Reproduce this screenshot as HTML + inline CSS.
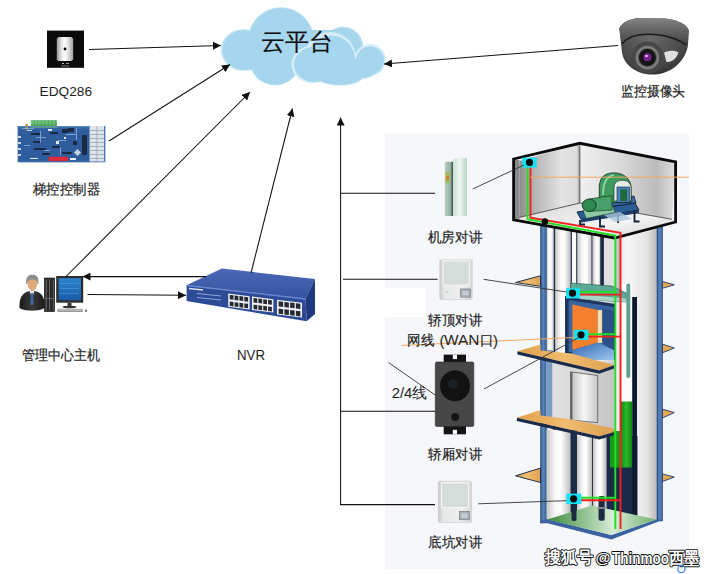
<!DOCTYPE html>
<html><head><meta charset="utf-8">
<style>
html,body{margin:0;padding:0;background:#fff;width:715px;height:574px;overflow:hidden}
svg{display:block}
text.wmk{font-weight:bold;fill:#fff;stroke:#0a0a0a;stroke-width:1.8px;paint-order:stroke;stroke-linejoin:round}
text{font-family:"Liberation Sans",sans-serif;fill:#1e1e1e;stroke:#1e1e1e;stroke-width:0.2px}
</style></head><body>
<svg width="715" height="574" viewBox="0 0 715 574">
<defs>
<marker id="ah" viewBox="0 0 10 10" refX="10" refY="5" markerWidth="8" markerHeight="8" markerUnits="userSpaceOnUse" orient="auto">
<path d="M0,0 L10,5 L0,10 z" fill="#111"/></marker>
</defs>
<!-- panel -->
<rect x="385" y="133.5" width="304" height="435.5" fill="#f5f7fa"/>
<rect x="385" y="288" width="41" height="29" fill="#fff"/>

<!-- cloud -->
<g fill="#cde8f5">
<ellipse cx="243" cy="50" rx="22.5" ry="21"/>
<circle cx="281" cy="40" r="33"/>
<circle cx="275" cy="60" r="25.5"/>
<circle cx="343" cy="47" r="20.5"/>
</g>
<g fill="#a6d6ed">
<ellipse cx="244" cy="50" rx="21.5" ry="20"/>
<circle cx="281" cy="40.5" r="32.5"/>
<circle cx="275" cy="60" r="25"/>
<circle cx="343" cy="47" r="19.5"/>
<rect x="250" y="30" width="100" height="40"/>
</g>
<g fill="#d6eef8">
<circle cx="330" cy="58" r="26"/>
<circle cx="370" cy="60" r="16"/>
<ellipse cx="313" cy="64.5" rx="21.5" ry="19"/>
<ellipse cx="340" cy="73" rx="26" ry="13"/>
<ellipse cx="362" cy="68" rx="16" ry="11"/>
</g>
<g fill="#a6d6ed">
<circle cx="331" cy="59.5" r="24"/>
<circle cx="370" cy="60.5" r="14"/>
<ellipse cx="314" cy="64.5" rx="20" ry="17.5"/>
<ellipse cx="340" cy="73" rx="25" ry="12"/>
<ellipse cx="362" cy="68" rx="15" ry="10"/>
</g>
<text x="296.5" y="50.2" font-size="24.2" text-anchor="middle" style="fill:#111">云平台</text>

<!-- EDQ286 -->
<defs>
<linearGradient id="edqg" x1="0" x2="1" y1="0" y2="0">
<stop offset="0" stop-color="#9a9a9a"/><stop offset="0.3" stop-color="#e6e6e6"/><stop offset="0.5" stop-color="#ffffff"/><stop offset="0.7" stop-color="#e0e0e0"/><stop offset="1" stop-color="#a0a0a0"/>
</linearGradient>
</defs>
<rect x="47" y="30.6" width="37" height="37.2" fill="#0b0b0b"/>
<path d="M58.5,37 H71.5 L73.2,38.7 V59.3 L71.5,61 H58.5 L56.8,59.3 V38.7 Z" fill="url(#edqg)"/>
<circle cx="65" cy="49" r="1.4" fill="#000"/>
<rect x="62" y="63" width="2" height="1" fill="#bbb"/><rect x="66" y="63" width="3" height="1" fill="#999"/>
<rect x="61" y="65.5" width="8" height="1" fill="#777"/>

<!-- controller board -->
<rect x="17.6" y="126" width="87.4" height="36.3" fill="#3264a6"/>
<rect x="19" y="130" width="70" height="30" fill="#2e5c9c"/>
<rect x="89.6" y="126" width="14.5" height="35.5" fill="#dfe4ea"/>
<g fill="#9aa6b4"><rect x="89.6" y="130" width="15" height="0.8"/><rect x="89.6" y="134" width="15" height="0.8"/><rect x="89.6" y="138" width="15" height="0.8"/><rect x="89.6" y="142" width="15" height="0.8"/><rect x="89.6" y="146" width="15" height="0.8"/><rect x="89.6" y="150" width="15" height="0.8"/><rect x="89.6" y="154" width="15" height="0.8"/><rect x="89.6" y="158" width="15" height="0.8"/><rect x="96.5" y="126" width="0.8" height="35"/></g>
<rect x="30.9" y="120.1" width="26.1" height="7.6" fill="#6dbd7b"/>
<rect x="30.9" y="124" width="26.1" height="3.7" fill="#5aaa68"/>
<g fill="#4a9a58"><rect x="34" y="120.5" width="0.6" height="7"/><rect x="37.5" y="120.5" width="0.6" height="7"/><rect x="41" y="120.5" width="0.6" height="7"/><rect x="44.5" y="120.5" width="0.6" height="7"/><rect x="48" y="120.5" width="0.6" height="7"/><rect x="51.5" y="120.5" width="0.6" height="7"/><rect x="55" y="120.5" width="0.6" height="7"/></g>
<rect x="25.3" y="123.9" width="2.7" height="5.6" fill="#c9a040"/>
<rect x="48.6" y="156.8" width="19.4" height="4.2" fill="#e0283a"/>
<g fill="#1a2a44">
<rect x="31" y="133" width="10" height="2"/><rect x="62" y="129" width="6" height="4"/><rect x="68" y="128" width="6" height="4"/>
<rect x="33" y="141" width="8" height="2"/><rect x="34" y="148" width="12" height="2"/><rect x="42" y="153" width="8" height="2"/>
<rect x="50" y="132" width="8" height="2"/><rect x="73" y="141" width="4" height="4"/><rect x="82" y="135" width="5" height="20"/>
<rect x="52" y="146" width="8" height="2"/><rect x="62" y="152" width="10" height="2"/>
</g>
<g fill="#c8d4e0"><rect x="18" y="136" width="3" height="2"/><rect x="18" y="142" width="3" height="2"/><rect x="18" y="148" width="3" height="2"/><rect x="18" y="154" width="3" height="2"/><rect x="75" y="150" width="5" height="5" transform="rotate(45 77.5 152.5)"/><rect x="27" y="130" width="5" height="1"/></g>
<g fill="#8fb0d8" opacity="0.8">
<rect x="22" y="128" width="12" height="1"/><rect x="36" y="137" width="10" height="1"/><rect x="24" y="145" width="6" height="1"/><rect x="44" y="150" width="6" height="1"/><rect x="58" y="140" width="8" height="1"/><rect x="66" y="134" width="10" height="1"/><rect x="40" y="131" width="1" height="12"/><rect x="60" y="147" width="1" height="8"/><rect x="76" y="128" width="1" height="12"/>
</g>
<g fill="#e6ecf2"><rect x="56" y="141" width="3" height="3"/><rect x="64" y="137" width="2" height="2"/><rect x="48" y="129" width="4" height="2"/><rect x="70" y="158" width="6" height="2"/><rect x="30" y="158" width="8" height="1"/></g>
<rect x="17.6" y="126" width="72" height="1.2" fill="#5a86c4"/>
<rect x="104" y="126" width="1.4" height="36" fill="#4a78b8"/>

<!-- person + computer -->
<defs>
<radialGradient id="headg" cx="0.45" cy="0.5" r="0.6"><stop offset="0" stop-color="#e8b890"/><stop offset="1" stop-color="#b88055"/></radialGradient>
<linearGradient id="scrg" x1="0" x2="0" y1="0" y2="1"><stop offset="0" stop-color="#2a84d0"/><stop offset="1" stop-color="#1a5aa6"/></linearGradient>
</defs>
<defs><linearGradient id="suit" x1="0" x2="1"><stop offset="0" stop-color="#1a1a1a"/><stop offset="0.5" stop-color="#3a3a3a"/><stop offset="1" stop-color="#1a1a1a"/></linearGradient></defs>
<path d="M19.5,308 C19,298 22,293.5 28,291.5 L32,290.5 L36.5,291.5 C42.5,293.5 45,298 44.3,308 C40,311.5 24,311.5 19.5,308 Z" fill="url(#suit)"/>
<path d="M29.5,291 L32,298 L34.5,291 Z" fill="#e8e8e8"/>
<path d="M31.2,293 L32.8,293 L33.6,303 L32,306 L30.4,303 Z" fill="#3a68a8"/>
<path d="M27.3,280 C27.3,287 29.5,290.5 32.4,290.5 C35.4,290.5 37.6,287 37.6,280 C37.6,277.5 35.5,277 32.4,277 C29.5,277 27.3,277.5 27.3,280 Z" fill="#e0a878"/>
<path d="M26.2,284 C25.5,277 28.5,274.7 32.3,274.7 C36.5,274.7 39.2,277 38.5,284 L37.6,284 C37.5,280.5 36.5,279.5 32.3,279.5 C28.5,279.5 27.5,280.5 27.2,284 Z" fill="#8c8c8c"/>
<rect x="44.3" y="278" width="10.4" height="33.6" fill="#2a2a2a" stroke="#111" stroke-width="0.6"/>
<rect x="45.8" y="279.5" width="0.8" height="31" fill="#777"/><rect x="49.3" y="279.5" width="0.8" height="31" fill="#777"/><rect x="53" y="279.5" width="0.8" height="31" fill="#666"/>
<rect x="45" y="298" width="9" height="0.8" fill="#777"/>
<rect x="56.2" y="276" width="27" height="26.7" fill="#2e2e2e"/>
<rect x="58.5" y="278.2" width="22.5" height="22" fill="url(#scrg)"/>
<g fill="#7ab8ee" opacity="0.6"><rect x="60" y="283" width="19" height="0.6"/><rect x="60" y="288" width="19" height="0.6"/><rect x="60" y="293" width="19" height="0.6"/></g>
<rect x="67.6" y="302.7" width="3.9" height="3.3" fill="#333"/>
<ellipse cx="69.5" cy="307" rx="7" ry="1.3" fill="#333"/>
<rect x="57.5" y="308.8" width="25.2" height="3.2" fill="#9a9a9a"/>
<rect x="58.5" y="309.5" width="23" height="1" fill="#d0d0d0"/>
<circle cx="86" cy="310.8" r="1.2" fill="#777"/>

<!-- NVR -->
<defs>
<linearGradient id="nvrtop" x1="0" x2="0" y1="0" y2="1"><stop offset="0" stop-color="#4c68b6"/><stop offset="1" stop-color="#3452a2"/></linearGradient>
</defs>
<path d="M186.6,285.2 L221.8,268.5 L315,279 L305.5,298.7 Z" fill="url(#nvrtop)"/>
<path d="M186.6,285.2 L305.5,298.7 L306.7,321.3 L186.6,301 Z" fill="#2c4a96"/>
<path d="M305.5,298.7 L315,279 L315,314 L306.7,321.3 Z" fill="#1f3a80"/>
<path d="M186.6,285.5 L305.5,299" stroke="#6a86d0" stroke-width="1.4"/>
<g fill="#eef0f4">
<path d="M228.2,293.5 L249.6,296.2 L249.6,309.5 L228.2,306.8 Z"/>
<path d="M252,296.6 L273.4,299.3 L273.4,312.6 L252,309.90000000000003 Z"/>
<path d="M277,299.8 L302,302.8 L302,317.6 L277,314.6 Z"/>
</g>
<g fill="#262a30">
<path d="M229.73,294.89 l3.78,0.48 v4.45 l-3.78,-0.48z"/><path d="M234.58,295.51 l3.78,0.48 v4.45 l-3.78,-0.48z"/><path d="M239.43,296.12 l3.78,0.48 v4.45 l-3.78,-0.48z"/><path d="M244.28,296.73 l3.78,0.48 v4.45 l-3.78,-0.48z"/><path d="M229.73,301.54 l3.78,0.48 v4.45 l-3.78,-0.48z"/><path d="M234.58,302.16 l3.78,0.48 v4.45 l-3.78,-0.48z"/><path d="M239.43,302.77 l3.78,0.48 v4.45 l-3.78,-0.48z"/><path d="M244.28,303.38 l3.78,0.48 v4.45 l-3.78,-0.48z"/>
<path d="M253.53,297.99 l3.78,0.48 v4.45 l-3.78,-0.48z"/><path d="M258.38,298.61 l3.78,0.48 v4.45 l-3.78,-0.48z"/><path d="M263.23,299.22 l3.78,0.48 v4.45 l-3.78,-0.48z"/><path d="M268.08,299.83 l3.78,0.48 v4.45 l-3.78,-0.48z"/><path d="M253.53,304.64 l3.78,0.48 v4.45 l-3.78,-0.48z"/><path d="M258.38,305.26 l3.78,0.48 v4.45 l-3.78,-0.48z"/><path d="M263.23,305.87 l3.78,0.48 v4.45 l-3.78,-0.48z"/><path d="M268.08,306.48 l3.78,0.48 v4.45 l-3.78,-0.48z"/>
<path d="M278.63,301.20 l4.49,0.54 v5.20 l-4.49,-0.54z"/><path d="M284.38,301.89 l4.49,0.54 v5.20 l-4.49,-0.54z"/><path d="M290.13,302.58 l4.49,0.54 v5.20 l-4.49,-0.54z"/><path d="M295.88,303.27 l4.49,0.54 v5.20 l-4.49,-0.54z"/><path d="M278.63,308.60 l4.49,0.54 v5.20 l-4.49,-0.54z"/><path d="M284.38,309.29 l4.49,0.54 v5.20 l-4.49,-0.54z"/><path d="M290.13,309.98 l4.49,0.54 v5.20 l-4.49,-0.54z"/><path d="M295.88,310.67 l4.49,0.54 v5.20 l-4.49,-0.54z"/>
</g>
<path d="M189,288.5 L203,290" stroke="#d8e0f4" stroke-width="1.3"/>
<path d="M197,293.5 L221,296 M197,297.5 L221,300" stroke="#9aaee0" stroke-width="0.9"/>

<!-- camera -->
<defs>
<linearGradient id="cambrim" x1="0" x2="0" y1="0" y2="1"><stop offset="0" stop-color="#858585"/><stop offset="0.45" stop-color="#666"/><stop offset="1" stop-color="#4a4a4a"/></linearGradient>
<radialGradient id="camball" cx="0.45" cy="0.35" r="0.7"><stop offset="0" stop-color="#6a6a6a"/><stop offset="0.7" stop-color="#484848"/><stop offset="1" stop-color="#2e2e2e"/></radialGradient>
<radialGradient id="lensr" cx="0.5" cy="0.5" r="0.5"><stop offset="0.6" stop-color="#3a3a3a"/><stop offset="0.85" stop-color="#8a8a8a"/><stop offset="1" stop-color="#4a4a4a"/></radialGradient>
</defs>
<path d="M619.3,28.3 C622,22 630,18.5 640,17.9 L665,18.5 C678,20 687,24 688.8,30.7 L688,45 C686,60 672,74.6 652.2,74.6 C636,74.6 623,64 621.8,51.5 Z" fill="url(#camball)"/>
<path d="M619.3,28.3 C622,22 630,18.5 640,17.9 L665,18.5 C678,20 687,24 688.8,30.7 L687.5,43 C680,36 665,32 645,32.6 C632,33 625,37 621.5,43 Z" fill="url(#cambrim)"/>
<path d="M622,44 C628,36 640,33.5 655,34.5 C668,35.5 680,40 686,45" stroke="#1a1a1a" stroke-width="1.4" fill="none"/>
<path d="M664,52.5 C670,50 676,50.5 678.5,52.5 C676.5,58.5 671.5,62.5 666.5,62 Z" fill="#e0e0e0"/>
<circle cx="647.4" cy="57.6" r="16" fill="#474747"/>
<circle cx="647.4" cy="57.6" r="12.5" fill="url(#lensr)"/>
<circle cx="647.4" cy="57.6" r="8.5" fill="#141414"/>
<circle cx="647.4" cy="57.3" r="4" fill="#7b2090"/>
<circle cx="646.5" cy="56" r="1.3" fill="#e6c8f0"/>

<!-- ELEVATOR -->
<defs>
<linearGradient id="cyl" x1="0" x2="1" y1="0" y2="0">
<stop offset="0" stop-color="#c4c4c4"/><stop offset="0.35" stop-color="#f8f8f8"/><stop offset="0.6" stop-color="#ffffff"/><stop offset="1" stop-color="#bdbdbd"/>
</linearGradient>
<linearGradient id="rcol" x1="0" x2="1" y1="0" y2="0">
<stop offset="0" stop-color="#dcdcdc"/><stop offset="0.3" stop-color="#f6f6f6"/><stop offset="0.75" stop-color="#e6e6e6"/><stop offset="1" stop-color="#b8b8b8"/>
</linearGradient>
<linearGradient id="lwall" x1="0" x2="1" y1="0" y2="0">
<stop offset="0" stop-color="#8e8e8e"/><stop offset="0.25" stop-color="#b4b4b4"/><stop offset="0.7" stop-color="#e4e4e4"/><stop offset="0.95" stop-color="#dcdcdc"/><stop offset="1" stop-color="#9a9a9a"/>
</linearGradient>
<linearGradient id="rwall" x1="0" x2="1" y1="0" y2="0">
<stop offset="0" stop-color="#f0f0f0"/><stop offset="0.45" stop-color="#d8d8d8"/><stop offset="0.8" stop-color="#bcbcbc"/><stop offset="1" stop-color="#e0e0e0"/>
</linearGradient>
<linearGradient id="floor" x1="0" x2="1" y1="0" y2="1">
<stop offset="0" stop-color="#d8d8d8"/><stop offset="0.6" stop-color="#f4f4f4"/><stop offset="1" stop-color="#d0d0d0"/>
</linearGradient>
<linearGradient id="wall2" x1="0" x2="1" y1="0" y2="0">
<stop offset="0" stop-color="#e2e2e2"/><stop offset="0.5" stop-color="#d6d6d6"/><stop offset="1" stop-color="#c4c4c4"/>
</linearGradient>
<linearGradient id="door" x1="0" x2="1" y1="0" y2="0">
<stop offset="0" stop-color="#bdbdbd"/><stop offset="0.5" stop-color="#f6f6f6"/><stop offset="1" stop-color="#c8c8c8"/>
</linearGradient>
<linearGradient id="slab" x1="0" x2="1" y1="0" y2="0">
<stop offset="0" stop-color="#e2a14a"/><stop offset="0.5" stop-color="#f0bc70"/><stop offset="1" stop-color="#dda050"/>
</linearGradient>
<linearGradient id="carfl" x1="0" x2="1" y1="0" y2="1">
<stop offset="0" stop-color="#2f64b0"/><stop offset="1" stop-color="#9cc8ef"/>
</linearGradient>
<linearGradient id="pitfl" x1="0" x2="1" y1="0" y2="0">
<stop offset="0" stop-color="#3a8a3a"/><stop offset="0.6" stop-color="#d8ecd8"/><stop offset="1" stop-color="#70b070"/>
</linearGradient>
<linearGradient id="cw" x1="0" x2="1" y1="0" y2="0">
<stop offset="0" stop-color="#168a16"/><stop offset="0.5" stop-color="#2ab82a"/><stop offset="1" stop-color="#128012"/>
</linearGradient>
<linearGradient id="blue" x1="0" x2="1" y1="0" y2="0">
<stop offset="0" stop-color="#2f5a94"/><stop offset="0.5" stop-color="#5b85ba"/><stop offset="1" stop-color="#34609a"/>
</linearGradient>
</defs>

<!-- right big column -->
<rect x="614" y="222" width="43.5" height="300" fill="url(#rcol)"/>
<!-- shaft inner back (full) -->
<rect x="546" y="220" width="75" height="302" fill="url(#cyl)"/>
<!-- cylinders stripes -->
<g fill="url(#cyl)">
<rect x="546" y="220" width="8" height="302"/>
<rect x="555" y="220" width="15.5" height="302"/>
<rect x="577" y="220" width="15.3" height="66"/>
<rect x="593" y="220" width="8" height="66"/>
<rect x="604" y="220" width="12" height="66" fill="#e0e0e0"/>
</g>
<g fill="#1c2a44">
<rect x="553.8" y="220" width="1.3" height="302"/>
<rect x="570.6" y="220" width="1.3" height="76"/>
<rect x="576.2" y="220" width="1" height="66"/>
<rect x="591.5" y="220" width="1" height="66"/>
<rect x="600.3" y="220" width="3.6" height="68"/>
</g>
<!-- left & right blue columns -->
<rect x="540.5" y="220" width="5.8" height="303" fill="url(#blue)" stroke="#284a7a" stroke-width="0.6"/>
<rect x="657" y="222" width="5.6" height="299" fill="url(#blue)" stroke="#284a7a" stroke-width="0.6"/>

<!-- landing wall section -->
<path d="M546.5,352 L615,364 L615,431 L571,421 L546.5,418 Z" fill="url(#wall2)"/>
<rect x="546.3" y="350" width="6" height="68" fill="#7d9cc4"/>
<path d="M570.5,371.8 L597.7,375.5 L597.7,422.7 L570.5,420 Z" fill="url(#door)" stroke="#555" stroke-width="0.8"/>
<rect x="570.5" y="372" width="2" height="48" fill="#666"/>

<!-- pit section columns -->
<g>
<rect x="546.5" y="430" width="24" height="92" fill="url(#cyl)"/>
<rect x="577" y="436" width="15" height="78" fill="url(#cyl)"/>
<rect x="593" y="436" width="13" height="76" fill="url(#cyl)"/>
<rect x="570.5" y="430" width="6.5" height="84" fill="#1c2c48"/>
<rect x="592" y="436" width="1" height="76" fill="#333"/>
<rect x="606.5" y="436" width="31" height="80" fill="#1a2a4a"/>
</g>

<!-- counterweight -->
<rect x="616" y="300" width="4.5" height="166" fill="#ececec"/>
<rect x="620.7" y="284" width="11.5" height="180" fill="#fafafa"/>
<rect x="620.7" y="401.5" width="11.5" height="66" fill="url(#cw)"/><rect x="610" y="431" width="11" height="36.5" fill="#1a9a1a"/>
<rect x="626.8" y="284" width="3" height="93.5" rx="1" fill="#5aa898" stroke="#2a6a60" stroke-width="0.5"/>
<rect x="632.2" y="297" width="4.8" height="222" fill="#0e1a30"/>

<!-- car -->
<path d="M565,296 L615,304 L615,360 L565,358 Z" fill="#1f3560"/>
<path d="M568.6,300 L614,307 L614,352 L568.6,352 Z" fill="#3a64a0"/>
<path d="M572.3,304.5 L597.7,310 L597.7,342.7 L572.3,350 Z" fill="#f4802e"/>
<rect x="597.7" y="310" width="4.6" height="33" fill="#f8dcae"/>
<path d="M602.3,309 L614,311 L614,352 L602.3,343 Z" fill="#2c5088"/>
<path d="M572.3,350 L597.7,342.7 L614,350 L614,360 L572.3,360 Z" fill="url(#carfl)"/>
<!-- car top -->
<path d="M570.5,283 L612,286 L626,293 L626,302 L582,299 L570.5,293 Z" fill="#5ca896" stroke="#2a5a50" stroke-width="0.6"/>
<path d="M580,294.5 L626,298.5 L626,302 L580,299 Z" fill="#a6d6c8"/>

<!-- slabs left triangles -->
<g fill="url(#slab)" stroke="#1e3050" stroke-width="1">
<path d="M515.5,282.5 L540.5,275.8 L540.5,286.3 Z"/>
<path d="M515.5,475.8 L540.5,468.1 L540.5,482.5 Z"/>
</g>
<g fill="#e8a850" stroke="#2a4a7a" stroke-width="1">
<path d="M662.5,281.5 L674.3,284.8 L662.5,288.3 Z"/>
<path d="M662.5,344.2 L674.3,348 L662.5,352.8 Z"/>
<path d="M662.5,409.3 L674.3,412.5 L662.5,418 Z"/>
<path d="M662.5,473.9 L674.3,477.1 L662.5,481.5 Z"/>
</g>
<!-- floor slabs -->
<path d="M517.4,351.2 L540.5,344.5 L540.5,350.4 L571.5,353.5 L614,365.3 L599.2,370.4 Z" fill="url(#slab)"/>
<path d="M517.4,351.2 L599.2,370.4 L614,365.3 L614,368.5 L599.2,373.8 L517.4,354.4 Z" fill="#1a2a48"/>
<path d="M516.9,417.7 L540.5,410 L540.5,415.4 L571,419.2 L613.6,428.5 L613.6,432.3 L599.2,436.2 Z" fill="url(#slab)"/>
<path d="M516.9,417.7 L599.2,436.2 L613.6,432.3 L613.6,435.5 L599.2,439.5 L516.9,421 Z" fill="#1a2a48"/>

<!-- pit floor -->
<path d="M540.5,521.5 L546.5,519 L611.4,535 L656.5,519.5 L662.5,520 L611.4,539.5 Z" fill="#3a62a0"/>
<path d="M547.3,519.5 L592,505.5 L656.5,519.5 L611.4,535 Z" fill="url(#pitfl)"/>
<rect x="598.5" y="496" width="6.2" height="24.8" rx="2" fill="#1a2a40"/>
<rect x="597.5" y="507" width="8.2" height="2" fill="#888"/>
<rect x="571.5" y="505" width="5" height="16" rx="2" fill="#1a2a40"/>

<!-- MACHINE ROOM -->
<path d="M519.4,161 L579.8,143.3 L579.8,203 L519.4,217.4 Z" fill="url(#lwall)"/>
<path d="M579.8,143.3 L675.6,161.8 L672,219.3 L579.8,203 Z" fill="url(#rwall)"/>
<path d="M513.6,219.8 L519.4,217.4 L579.8,203 L672,219.3 L675.6,222 L614.5,238 Z" fill="url(#floor)"/>
<rect x="513.6" y="160" width="5.8" height="59" fill="#8a8a8a"/>
<path d="M579.8,143.3 L579.8,203 M519.4,217.4 L579.8,203 L672,219.3" stroke="#333" stroke-width="0.8" fill="none"/>
<path d="M513.6,159 L579.8,143.3 L675.6,161.8 L675.6,222 L614.5,238 L513.6,219.8 Z" fill="none" stroke="#0a0a0a" stroke-width="2.8" stroke-linejoin="miter"/>
<!-- motor -->
<path d="M577,212 L635,203 L639,210 L581,219.5 Z" fill="#2c5c94" stroke="#0e1e38" stroke-width="0.9"/>
<path d="M581,219.5 L639,210 L639,213 L581,222.5 Z" fill="#1e3e6a"/>
<path d="M580,220 L580,224.5 L585,224.5 M600,217 L600,226.5 L605,226.5 M634.5,211 L634.5,221.5 L639.5,221.5 M618,214 L618,223" stroke="#0e1e38" stroke-width="1.8" fill="none"/>
<path d="M603,214.5 L620,212 L632,219 L615,222 Z" fill="#a8c8e0" opacity="0.8"/>
<path d="M598,201 L634,196 L636,203 L600,208 Z" fill="#3566a0" stroke="#0e1e38" stroke-width="0.8"/>
<path d="M583,210 L612,204.5 L615,212.5 L586,218.5 Z" fill="#8cc8a2" stroke="#0e2a1a" stroke-width="0.5"/>
<path d="M599.3,203 L599.3,186 C600,176 606,172.9 614,172.9 C624,172.9 631,179 631,187.6 L631,202.4 Z" fill="#3d9a5c" stroke="#0e2a1a" stroke-width="0.8"/>
<path d="M603,195 C603,182 607,176 614,175" stroke="#8fd0a8" stroke-width="2" fill="none"/>
<path d="M614,201 L614,188 C614,182 618,180.3 622.6,180.3 C627,180.3 631,183 631,188 L631,201 Z" fill="#e4eee6" stroke="#0e2a1a" stroke-width="0.6"/>
<rect x="617" y="187" width="12.4" height="15.4" fill="#4a80c0" stroke="#0e1e38" stroke-width="0.6"/>
<rect x="620.3" y="189.3" width="6.7" height="11.9" fill="#1e6a3a"/>
<path d="M589,199 L612,195.6 L612,210 L589,211.4 Z" fill="#4aa06a" stroke="#0e2a1a" stroke-width="0.6"/>
<ellipse cx="589.2" cy="205.2" rx="7" ry="6.2" fill="#2f8a4f" stroke="#0e2a1a" stroke-width="0.8"/>

<!-- wires -->
<g fill="none" stroke-width="1.9">
<path d="M527.6,166 L527.6,219.3 L615.3,235.5 L615.3,529" stroke="#22e022"/>
<path d="M530.5,166 L530.5,217.8 L620.5,232.7 L620.5,529" stroke="#ee2020"/>
<path d="M578,292 L615.3,292 M585,334.2 L615.3,334.2 M578,497.8 L615.3,497.8" stroke="#22e022"/>
<path d="M578,294.6 L620.5,294.6 M585,336.6 L620.5,336.6 M578,500.3 L620.5,500.3" stroke="#ee2020"/>
</g>
<circle cx="544.9" cy="221.5" r="3.2" fill="#0a0a0a"/>
<g fill="#12e2f6">
<rect x="522.3" y="157.6" width="14.3" height="10"/>
<rect x="566" y="288.3" width="14" height="10.1"/>
<rect x="573.6" y="329.8" width="14.8" height="10.2"/>
<rect x="566.3" y="493.6" width="15" height="10.4"/>
</g>
<g fill="#0a0a0a">
<circle cx="529.5" cy="162.4" r="3.6"/>
<circle cx="572.5" cy="293.2" r="3.6"/>
<circle cx="581" cy="334.8" r="3.6"/>
<circle cx="573.6" cy="498.8" r="3.6"/>
</g>
<!-- thin connector lines -->
<g stroke="#333" stroke-width="0.9" fill="none">
<path d="M472.7,189 L524,165"/>
<path d="M483.6,279.3 L566.5,292"/>
<path d="M484,389 L578.8,337.5"/>
<path d="M388.5,362.6 L436.3,395.8"/>
<path d="M478.3,503.8 L566.3,500.7"/>
</g>
<g stroke="#f0a860" stroke-width="1" fill="none">
<path d="M530,177.2 L689,177.2"/>
<path d="M401.7,345.5 L573.6,337.5"/>
</g>

<!-- intercoms -->
<defs>
<linearGradient id="ic1" x1="0" x2="1"><stop offset="0" stop-color="#c8e0d2"/><stop offset="0.5" stop-color="#eef7f1"/><stop offset="1" stop-color="#b8d4c4"/></linearGradient>
<linearGradient id="ic2" x1="0" x2="1"><stop offset="0" stop-color="#c8cac9"/><stop offset="0.15" stop-color="#e6e9e8"/><stop offset="0.7" stop-color="#eef0ef"/><stop offset="1" stop-color="#d6d8d7"/></linearGradient>
</defs>
<defs><linearGradient id="icb" x1="0" x2="1"><stop offset="0" stop-color="#b4cec0"/><stop offset="0.6" stop-color="#98b4a6"/><stop offset="0.85" stop-color="#4c5e54"/><stop offset="1" stop-color="#2e3a34"/></linearGradient></defs>
<rect x="444.8" y="161.8" width="9" height="54.2" rx="1" fill="url(#icb)"/>
<rect x="445.5" y="172" width="4" height="11" fill="#a8b850"/>
<rect x="446.5" y="176" width="2.5" height="4" fill="#d87a28"/>
<path d="M453,160 C453,157.8 460,157.6 467,158.3 L467,216 L453,216 Z" fill="url(#ic1)"/>

<g>
<rect x="439.8" y="259.8" width="32.4" height="39.8" rx="1.5" fill="url(#ic2)" stroke="#c4c4c4" stroke-width="0.6"/>
<rect x="443" y="261" width="26.4" height="24.2" fill="#d4ddd9" stroke="#f6f7f7" stroke-width="1"/>
<rect x="460.6" y="289" width="9.7" height="8.2" fill="#aab2b8" stroke="#7a8086" stroke-width="0.8"/>
<rect x="462.5" y="291" width="6" height="4.2" fill="#c4ccd4"/>
<circle cx="447" cy="292" r="0.6" fill="#888"/>
</g>
<g>
<rect x="438.4" y="481.2" width="33.2" height="41.2" rx="1.5" fill="url(#ic2)" stroke="#c4c4c4" stroke-width="0.6"/>
<rect x="441.6" y="483" width="26.8" height="24.6" fill="#d4ddd9" stroke="#f6f7f7" stroke-width="1"/>
<rect x="459.5" y="511.5" width="9.8" height="8.2" fill="#aab2b8" stroke="#7a8086" stroke-width="0.8"/>
<rect x="461.4" y="513.5" width="6" height="4.2" fill="#c4ccd4"/>
</g>
<!-- speaker device -->
<rect x="443.7" y="354.6" width="22.3" height="9" fill="#141414"/>
<rect x="452.8" y="354.6" width="4.2" height="4.5" fill="#f5f7fa"/>
<rect x="443.7" y="425.5" width="22.3" height="8.8" fill="#141414"/>
<rect x="452.8" y="429.8" width="4.2" height="4.5" fill="#f5f7fa"/>
<rect x="435.3" y="362" width="38.5" height="64.4" rx="1.5" fill="#474747" stroke="#2a2a2a" stroke-width="0.6"/>
<ellipse cx="455" cy="385.8" rx="15.6" ry="16" fill="#121212" stroke="#5a5e5c" stroke-width="0.6"/>
<ellipse cx="453" cy="384" rx="5" ry="5" fill="#1a1e26"/>
<circle cx="455.2" cy="417" r="4" fill="#141414"/>

<!-- arrows -->
<g stroke="#111" stroke-width="1.05" fill="none">
<line x1="89" y1="49.5" x2="221" y2="45.5" marker-end="url(#ah)"/>
<line x1="109" y1="141" x2="230" y2="64.5" marker-end="url(#ah)"/>
<line x1="66" y1="276.5" x2="250" y2="92" marker-end="url(#ah)"/>
<line x1="251" y1="273" x2="292.5" y2="108.5" marker-end="url(#ah)"/>
<line x1="618" y1="45.6" x2="384" y2="64" marker-end="url(#ah)"/>
<line x1="206" y1="276.6" x2="82.5" y2="276.6" marker-end="url(#ah)"/>
<line x1="87.5" y1="294.5" x2="186" y2="295.3" marker-end="url(#ah)"/>
<line x1="340.6" y1="505" x2="340.6" y2="117.5" marker-end="url(#ah)"/>
<line x1="340" y1="193.2" x2="435" y2="193.2"/>
<line x1="343" y1="279.3" x2="437.6" y2="279.3"/>
<line x1="340" y1="411.2" x2="435" y2="411.2"/>
<line x1="340" y1="504.6" x2="435" y2="504.6"/>
</g>

<!-- labels -->
<text style="stroke:none" x="39.6" y="96.3" font-size="13.5" textLength="52.5" lengthAdjust="spacingAndGlyphs">EDQ286</text>
<text x="33" y="194" font-size="13.5" textLength="67" lengthAdjust="spacingAndGlyphs">梯控控制器</text>
<text x="21.8" y="360" font-size="13.5" textLength="78" lengthAdjust="spacingAndGlyphs">管理中心主机</text>
<text style="stroke:none" x="237" y="359.8" font-size="14.2" textLength="28" lengthAdjust="spacingAndGlyphs">NVR</text>
<text x="621" y="95.5" font-size="13.5" textLength="64.3" lengthAdjust="spacingAndGlyphs">监控摄像头</text>
<text x="427.8" y="242" font-size="13.5" textLength="54.4" lengthAdjust="spacingAndGlyphs">机房对讲</text>
<text x="428.3" y="324.5" font-size="13.5" textLength="53.7" lengthAdjust="spacingAndGlyphs">轿顶对讲</text>
<text x="407" y="345" font-size="13.5" textLength="27" lengthAdjust="spacingAndGlyphs">网线</text>
<text style="stroke:none" x="439.5" y="345.5" font-size="14" textLength="5" lengthAdjust="spacingAndGlyphs">(</text>
<text style="stroke:none" x="444" y="345" font-size="14" textLength="35.5" lengthAdjust="spacingAndGlyphs">WAN</text>
<text x="480" y="345" font-size="13.5" textLength="13.5" lengthAdjust="spacingAndGlyphs">口</text>
<text style="stroke:none" x="493" y="345.5" font-size="14" textLength="5" lengthAdjust="spacingAndGlyphs">)</text>
<text style="stroke:none" x="391.7" y="397.5" font-size="15" textLength="35.6" lengthAdjust="spacingAndGlyphs">2/4线</text>
<text x="428.3" y="458.5" font-size="13.5" textLength="53.7" lengthAdjust="spacingAndGlyphs">轿厢对讲</text>
<text x="428.3" y="546.5" font-size="13.5" textLength="53.7" lengthAdjust="spacingAndGlyphs">底坑对讲</text>
<g font-size="16.5">
<text x="545" y="563" textLength="48.5" lengthAdjust="spacingAndGlyphs" class="wmk">搜狐号</text>
<text x="595.5" y="563" font-size="15" textLength="15" lengthAdjust="spacingAndGlyphs" class="wmk">@</text>
<text x="612" y="563.5" font-size="16" textLength="57" lengthAdjust="spacingAndGlyphs" class="wmk">Thinmoo</text>
<text x="669" y="563.5" textLength="30.5" lengthAdjust="spacingAndGlyphs" class="wmk">西墨</text>
</g>
<circle cx="681.4" cy="569" r="3.6" fill="none" stroke="#3a8ae8" stroke-width="1.3"/>
</svg>
</body></html>
